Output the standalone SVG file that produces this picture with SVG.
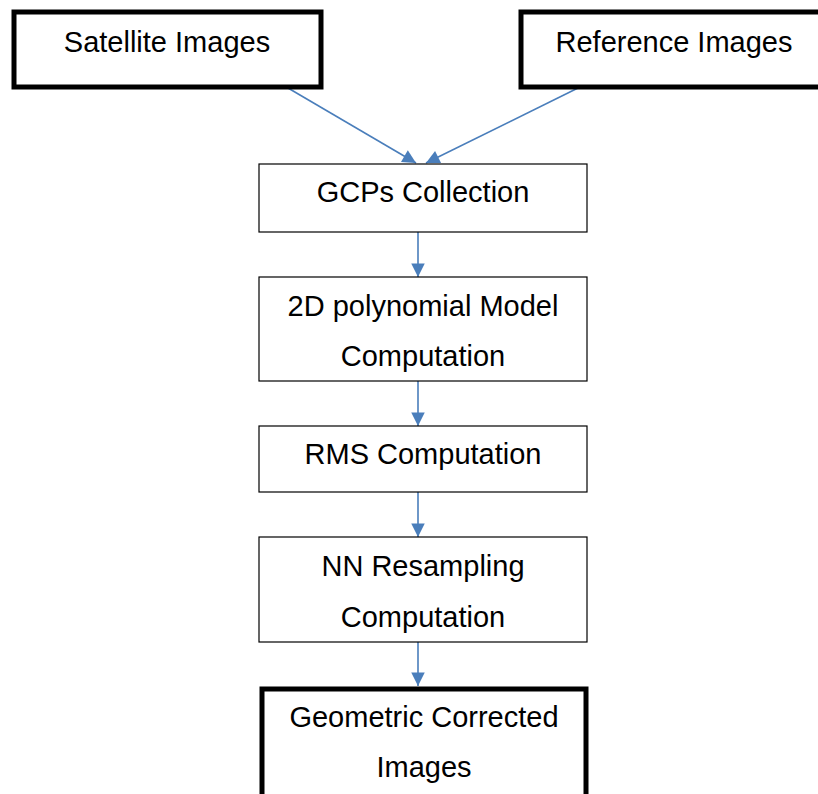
<svg xmlns="http://www.w3.org/2000/svg" width="818" height="794" viewBox="0 0 818 794">
<style>
.thin{fill:#fff;stroke:#000;stroke-width:1.2}
.thick{fill:#fff;stroke:#000;stroke-width:5}
text{font-family:"Liberation Sans",Arial,sans-serif;font-size:29px;fill:#000;text-anchor:middle}
.c{stroke:#4a7ebb;stroke-width:1.6;fill:none;marker-end:url(#ah)}
</style>
<defs>
<marker id="ah" viewBox="0 0 10 10" refX="10" refY="5" markerWidth="9" markerHeight="9" markerUnits="userSpaceOnUse" orient="auto" overflow="visible">
<path d="M0,0 L10,5 L0,10 z" fill="#4a7ebb" transform="scale(1.5) translate(-3.3,-1.67)"/>
</marker>
</defs>
<rect width="818" height="794" fill="#fff"/>
<g id="connectors">
<line class="c" x1="288" y1="88" x2="416" y2="163"/>
<line class="c" x1="578" y1="88" x2="426" y2="163"/>
<line class="c" x1="418" y1="232" x2="418" y2="277"/>
<line class="c" x1="418" y1="381" x2="418" y2="426"/>
<line class="c" x1="418" y1="492" x2="418" y2="537"/>
<line class="c" x1="418" y1="642" x2="418" y2="686"/>
</g>
<g id="satellite">
<rect class="thick" x="14" y="12" width="307" height="75"/>
<text x="167" y="52">Satellite Images</text>
</g>
<g id="reference">
<rect class="thick" x="521" y="12" width="310" height="75"/>
<text x="674" y="52">Reference Images</text>
</g>
<g id="gcps">
<rect class="thin" x="259" y="164" width="328" height="68"/>
<text x="423" y="202">GCPs Collection</text>
</g>
<g id="poly">
<rect class="thin" x="259" y="277" width="328" height="104"/>
<text x="423" y="316">2D polynomial Model</text>
<text x="423" y="366">Computation</text>
</g>
<g id="rms">
<rect class="thin" x="259" y="426" width="328" height="66"/>
<text x="423" y="464">RMS Computation</text>
</g>
<g id="nn">
<rect class="thin" x="259" y="537" width="328" height="105"/>
<text x="423" y="576">NN Resampling</text>
<text x="423" y="627">Computation</text>
</g>
<g id="geo">
<rect class="thick" x="262" y="689" width="324" height="120"/>
<text x="424" y="727">Geometric Corrected</text>
<text x="424" y="777">Images</text>
</g>
</svg>
